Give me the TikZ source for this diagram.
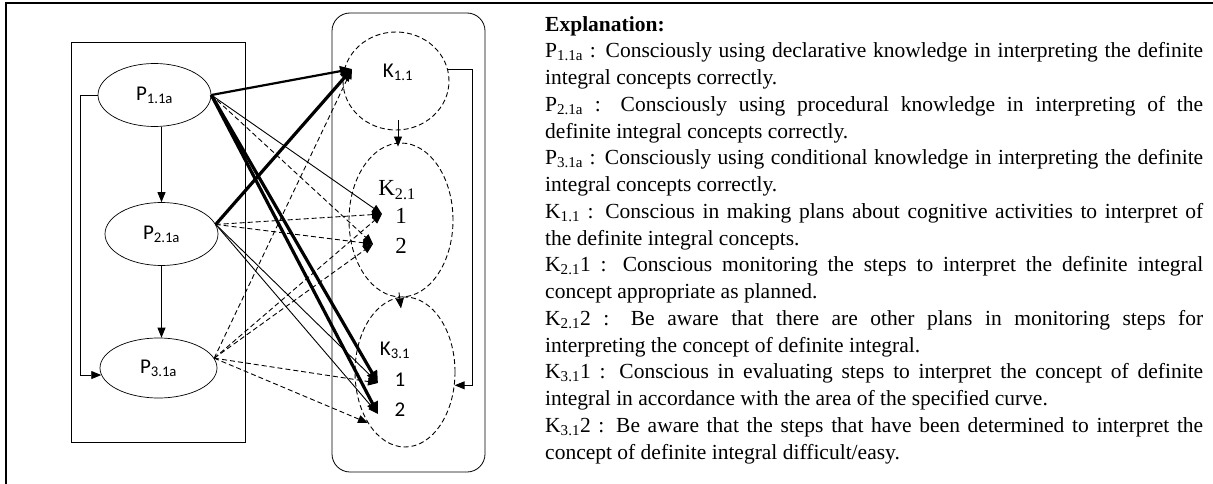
\documentclass[tikz,border=0pt]{standalone}
\usepackage{fontspec}
\setmainfont{Liberation Serif}
\newfontfamily\calfont{Carlito}
\usetikzlibrary{arrows.meta, positioning, shapes.geometric, calc}
\newlength{\explw}
\setlength{\explw}{658pt}
\newcommand{\fullline}[1]{\makebox[\explw][s]{#1}}

\begin{document}
\begin{tikzpicture}[x=1pt, y=-1pt,
    every node/.style={inner sep=0pt},
    pnode/.style={draw, ellipse, line width=0.7pt, minimum width=113pt, minimum height=63pt, font=\calfont\fontsize{21}{25}\selectfont},
    knode/.style={draw, ellipse, line width=0.9pt, dash pattern=on 5pt off 3pt},
    klabel/.style={font=\calfont\fontsize{21}{25}\selectfont},
    kserif/.style={font=\fontsize{23}{27}\selectfont},
    solidarr/.style={line width=0.9pt, -{Triangle[length=10pt,width=8pt]}},
    dasharr/.style={solidarr, dash pattern=on 5pt off 3pt},
    midarr/.style={line width=2.2pt, -{Triangle[length=12pt,width=10pt]}},
    boldarr/.style={line width=3.2pt, -{Triangle[length=12pt,width=11pt]}},
  ]
  \useasboundingbox (0,0) rectangle (1213,484);
  \draw[line width=1.8pt] (6,484) -- (6,3) -- (1213,3);

  % left block: declarative, procedural, conditional
  \draw[line width=0.8pt] (71,42) rectangle (245,442);
  \node[pnode] (p1) at (154.5,95) {P\textsubscript{1.1a}};
  \node[pnode] (p2) at (161.5,234) {P\textsubscript{2.1a}};
  \node[pnode, minimum width=117pt, minimum height=60pt] (p3) at (158.5,368) {P\textsubscript{3.1a}};

  \draw[solidarr] (p1.south -| p2.north) -- (p2.north);
  \draw[solidarr] (p2.south) -- (p2.south |- p3.north);
  \draw[solidarr] (p1.west) -- ++(-17,0) |- (p3.187);

  % right block: planning, monitoring, evaluating
  \draw[line width=0.8pt, rounded corners=18pt] (332,13) rectangle (485,472);
  \node[knode, minimum width=106pt, minimum height=98pt] (k1) at (396,81) {};
  \node[knode, minimum width=104pt, minimum height=154pt] (k2) at (401,220) {};
  \node[knode, minimum width=100pt, minimum height=150pt] (k3) at (405,372) {};

  \node[klabel] (k1lab) at (398,72) {K\textsubscript{1.1}};
  \node[kserif] (k2lab) at (397,190) {K\textsubscript{2.1}};
  \node[kserif] (k2one) at (401,216) {1};
  \node[kserif] (k2two) at (401,246) {2};
  \node[klabel] (k3lab) at (395,350) {K\textsubscript{3.1}};
  \node[klabel] (k3one) at (400,380) {1};
  \node[klabel] (k3two) at (400,410) {2};

  \draw[solidarr] ([xshift=2pt, yshift=10pt]k1.south) -- ([xshift=-3pt, yshift=-4pt]k2.north);
  \draw[solidarr] ([xshift=-2pt, yshift=5pt]k2.south) -- ([yshift=-11pt]k2.south);
  \draw[solidarr] (k1.12) -- ++(24,0) |- (k3.-15);

  \coordinate (t11) at (352,69);
  \coordinate (t21a) at (382,214);
  \coordinate (t21b) at (373,244);
  \coordinate (t31a) at (378,383);
  \coordinate (t31b) at (378,414);
  \coordinate (t31c) at (368,423);

  % links from P to K
  \draw[midarr] (p1.east) -- (t11);
  \draw[solidarr] (p1.east) -- (t21a);
  \draw[dasharr] (p1.east) -- (t21b);
  \draw[boldarr] (p1.east) -- (t31a);
  \draw[boldarr] (p1.east) -- (t31b);

  \draw[boldarr] (p2.10) -- (t11);
  \draw[dasharr] (p2.10) -- (t21a);
  \draw[dasharr] (p2.10) -- (t21b);
  \draw[solidarr] (p2.10) -- (t31a);
  \draw[solidarr] (p2.10) -- (t31b);

  \draw[dasharr] (p3.10) -- (t11);
  \draw[dasharr] (p3.10) -- (t21a);
  \draw[dasharr] (p3.10) -- (t21b);
  \draw[dasharr] (p3.10) -- (t31a);
  \draw[dasharr] (p3.10) -- (t31c);

  % explanation
  \node[anchor=north west, align=left, font=\fontsize{21.5}{26.75}\selectfont] (expl) at (545,16) {%
    \textbf{Explanation:}\\
    \fullline{P\textsubscript{1.1a} : Consciously using declarative knowledge in interpreting the definite}\\
    integral concepts correctly.\\
    \fullline{P\textsubscript{2.1a} : Consciously using procedural knowledge in interpreting of the}\\
    definite integral concepts correctly.\\
    \fullline{P\textsubscript{3.1a} : Consciously using conditional knowledge in interpreting the definite}\\
    integral concepts correctly.\\
    \fullline{K\textsubscript{1.1} : Conscious in making plans about cognitive activities to interpret of}\\
    the definite integral concepts.\\
    \fullline{K\textsubscript{2.1}1 : Conscious monitoring the steps to interpret the definite integral}\\
    concept appropriate as planned.\\
    \fullline{K\textsubscript{2.1}2 : Be aware that there are other plans in monitoring steps for}\\
    interpreting the concept of definite integral.\\
    \fullline{K\textsubscript{3.1}1 : Conscious in evaluating steps to interpret the concept of definite}\\
    integral in accordance with the area of the specified curve.\\
    \fullline{K\textsubscript{3.1}2 : Be aware that the steps that have been determined to interpret the}\\
    concept of definite integral difficult/easy.};
\end{tikzpicture}
\end{document}
